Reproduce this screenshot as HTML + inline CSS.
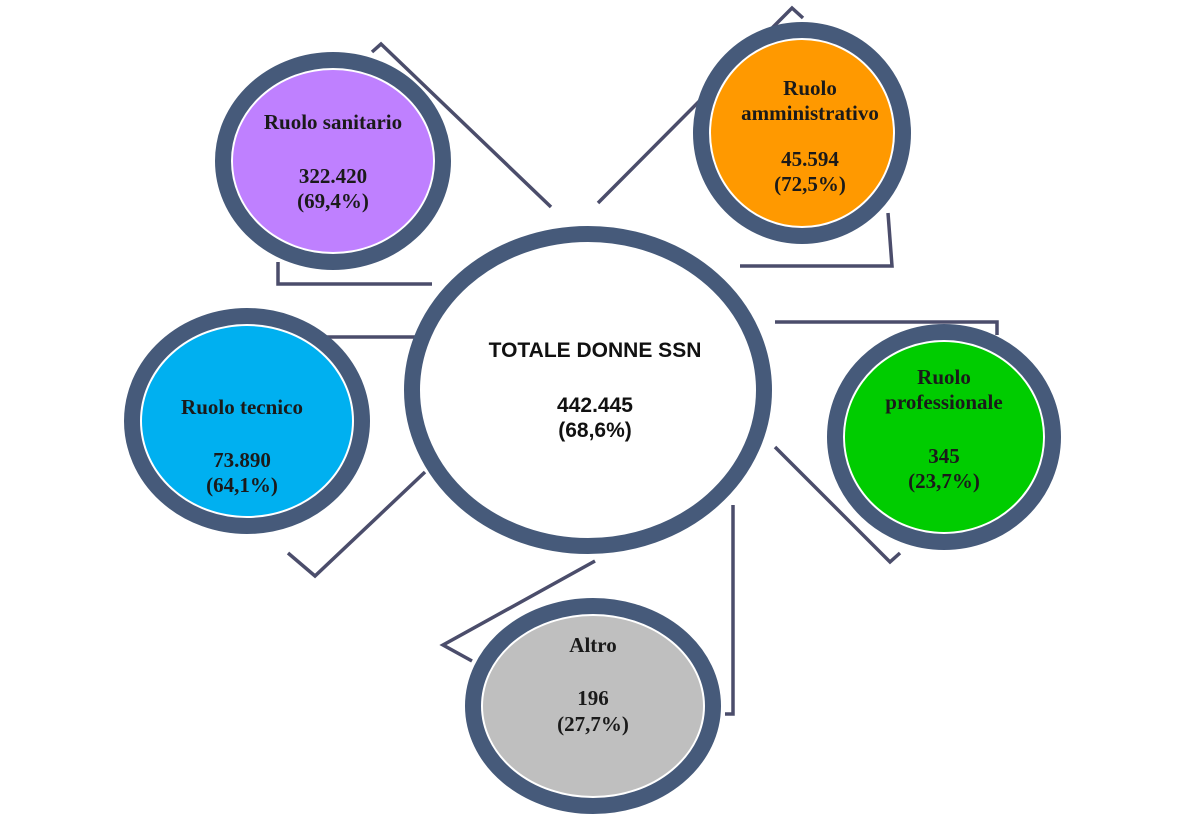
<!DOCTYPE html>
<html><head><meta charset="utf-8"><style>
html,body{margin:0;padding:0;background:#fff;}
svg{display:block;}
.t{font-family:"Liberation Serif",serif;font-weight:bold;font-size:21px;fill:#1a1a1a;text-anchor:middle;}
.c{font-family:"Liberation Sans",sans-serif;font-weight:bold;font-size:21px;fill:#111;text-anchor:middle;}
.l{fill:none;stroke:#4b4d6b;stroke-width:3.5;}
</style></head><body>
<svg width="1187" height="837" viewBox="0 0 1187 837">
<polyline class="l" points="372,52 381,44 551,207"/>
<polyline class="l" points="278,262 278,284 432,284"/>
<polyline class="l" points="598,203 792,8 803,18"/>
<polyline class="l" points="888,213 892,266 740,266"/>
<polyline class="l" points="275,337 420,337"/>
<polyline class="l" points="288,553 315,576 425,472"/>
<polyline class="l" points="775,322 997,322 997,335"/>
<polyline class="l" points="775,447 890,562 900,553"/>
<polyline class="l" points="595,561 443,645 472,661"/>
<polyline class="l" points="733,505 733,714 725,714"/>
<g stroke="#465a7a" stroke-width="16">
<ellipse cx="588" cy="390" rx="176" ry="156" fill="#fff"/>
<ellipse cx="333" cy="161" rx="110" ry="101" fill="#fff"/>
<ellipse cx="802" cy="133" rx="101" ry="103" fill="#fff"/>
<ellipse cx="247" cy="421" rx="115" ry="105" fill="#fff"/>
<ellipse cx="944" cy="437" rx="109" ry="105" fill="#fff"/>
<ellipse cx="593" cy="706" rx="120" ry="100" fill="#fff"/>
</g>
<ellipse cx="333" cy="161" rx="100" ry="91" fill="#bf80ff"/>
<ellipse cx="802" cy="133" rx="91" ry="93" fill="#ff9900"/>
<ellipse cx="247" cy="421" rx="105" ry="95" fill="#00b0f0"/>
<ellipse cx="944" cy="437" rx="99" ry="95" fill="#00cc00"/>
<ellipse cx="593" cy="706" rx="110" ry="90" fill="#bfbfbf"/>
<text class="c" x="595" y="357">TOTALE DONNE SSN</text>
<text class="c" x="595" y="412">442.445</text>
<text class="c" x="595" y="437">(68,6%)</text>
<text class="t" x="333" y="129">Ruolo sanitario</text>
<text class="t" x="333" y="183">322.420</text>
<text class="t" x="333" y="208">(69,4%)</text>
<text class="t" x="810" y="95">Ruolo</text>
<text class="t" x="810" y="120">amministrativo</text>
<text class="t" x="810" y="166">45.594</text>
<text class="t" x="810" y="191">(72,5%)</text>
<text class="t" x="242" y="414">Ruolo tecnico</text>
<text class="t" x="242" y="467">73.890</text>
<text class="t" x="242" y="492">(64,1%)</text>
<text class="t" x="944" y="384">Ruolo</text>
<text class="t" x="944" y="409">professionale</text>
<text class="t" x="944" y="463">345</text>
<text class="t" x="944" y="488">(23,7%)</text>
<text class="t" x="593" y="652">Altro</text>
<text class="t" x="593" y="705">196</text>
<text class="t" x="593" y="731">(27,7%)</text>
</svg>
</body></html>
